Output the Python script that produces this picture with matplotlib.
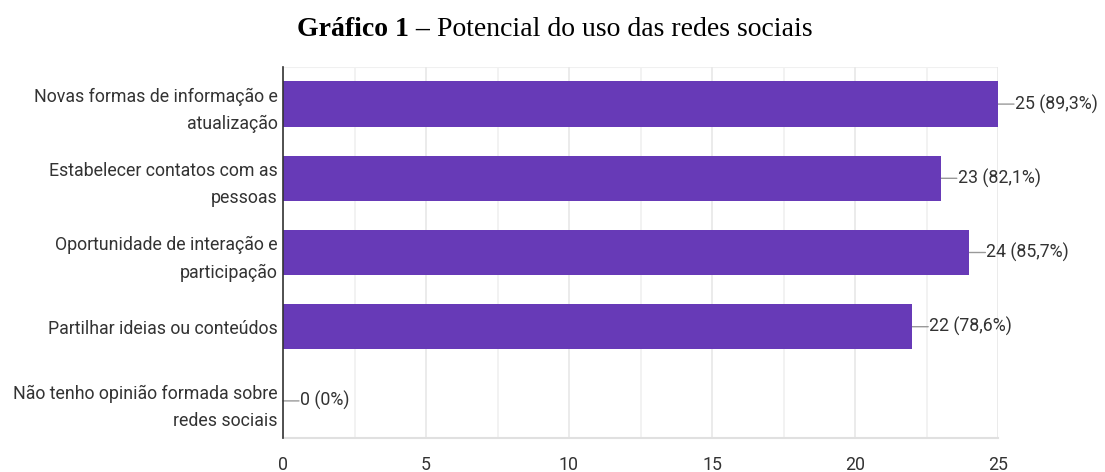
import matplotlib
matplotlib.use("Agg")
import matplotlib.pyplot as plt
from matplotlib.ticker import MultipleLocator

categories = [
    "Novas formas de informação e\natualização",
    "Estabelecer contatos com as\npessoas",
    "Oportunidade de interação e\nparticipação",
    "Partilhar ideias ou conteúdos",
    "Não tenho opinião formada sobre\nredes sociais",
]
values = [25, 23, 24, 22, 0]
percents = ["89,3%", "82,1%", "85,7%", "78,6%", "0%"]
x_ticks = [0, 5, 10, 15, 20, 25]

title_bold = "Gráfico 1 –"
title_rest = " Potencial do uso das redes sociais"

bar_color = "#673AB7"
text_color = "#333333"
sans = ["Roboto", "Liberation Sans", "DejaVu Sans"]
serif = ["Liberation Serif", "DejaVu Serif"]
fs = 12.8

fig = plt.figure(figsize=(11.05, 4.72), dpi=100)
ax = fig.add_axes([283 / 1105, 1 - 438 / 472, (998 - 283) / 1105, (438 - 67) / 472])

ypos = list(range(len(categories)))
ax.barh(ypos, values, height=0.61, color=bar_color, zorder=3)
ax.set_ylim(len(categories) - 0.5, -0.5)
ax.set_xlim(0, 25)

ax.xaxis.set_minor_locator(MultipleLocator(2.5))
ax.set_xticks(x_ticks)
ax.set_xticklabels([str(t) for t in x_ticks], fontfamily=sans, fontsize=fs, color=text_color)
ax.set_yticks(ypos)
ax.set_yticklabels(categories, fontfamily=sans, fontsize=fs, color=text_color,
                   linespacing=1.65, ha="right")
ax.tick_params(axis="both", which="both", length=0)
ax.tick_params(axis="y", pad=4)
ax.tick_params(axis="x", pad=13)

ax.grid(axis="x", which="major", color="#e8e8e8", lw=1.2, zorder=0)
ax.grid(axis="x", which="minor", color="#f0f0f0", lw=1.2, zorder=0)
ax.grid(axis="y", visible=False)
for s in ["top", "right"]:
    ax.spines[s].set_visible(False)
ax.spines["bottom"].set_color("#e0e0e0")
ax.spines["bottom"].set_linewidth(1.5)
ax.spines["left"].set_color("#333333")
ax.spines["left"].set_linewidth(1.2)
ax.spines["left"].set_zorder(5)
ax.axhline(-0.5, color="#f0f0f0", lw=1.5, zorder=0)

for y, v, p in zip(ypos, values, percents):
    ax.annotate("", xy=(v, y), xytext=(16, 0), textcoords="offset pixels",
                arrowprops=dict(arrowstyle="-", color="#999999", lw=1.0,
                                shrinkA=0, shrinkB=0), zorder=2, annotation_clip=False)
    ax.annotate(f"{v} ({p})", xy=(v, y), xytext=(17, 0), textcoords="offset pixels",
                ha="left", va="center", fontfamily=sans, fontsize=fs,
                color=text_color, annotation_clip=False)

t1 = fig.text(297 / 1105, 1 - 29 / 472, title_bold, fontfamily=serif,
              fontweight="bold", fontsize=20, ha="left", va="center", color="black")
ax.annotate(title_rest, xy=(1, 0.5), xycoords=t1, ha="left", va="center",
            fontfamily=serif, fontsize=20, color="black", annotation_clip=False)

fig.savefig("out.png", dpi=100, facecolor="white")
